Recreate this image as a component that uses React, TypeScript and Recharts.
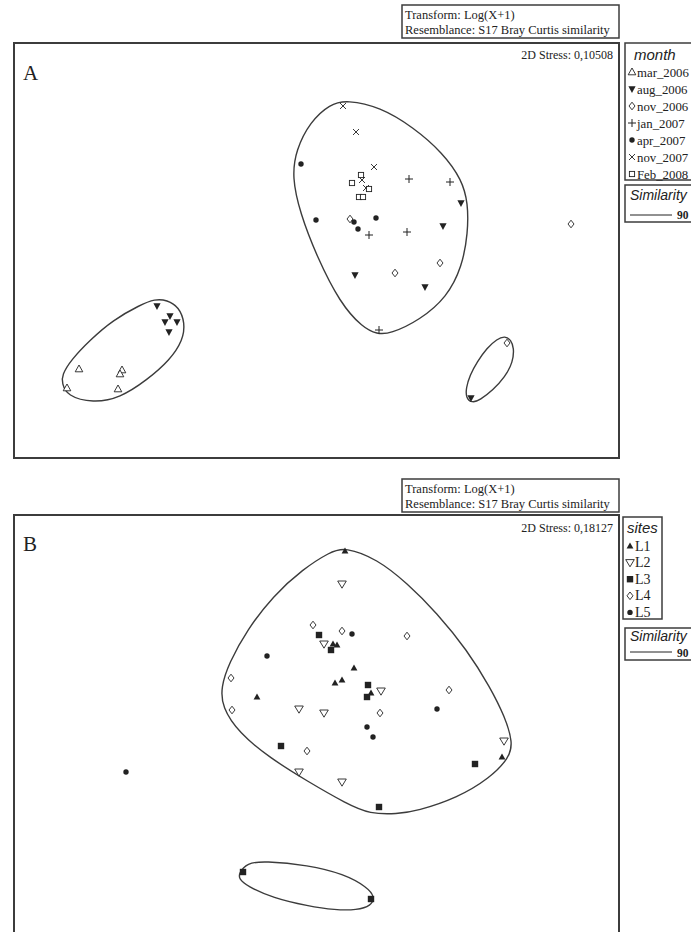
import React from 'react'
import { ScatterChart, Scatter, XAxis, YAxis } from 'recharts'

// MDS coordinates (axis 1, axis 2)

// Panel A: samples grouped by month
const mar2006 = [[-2.36, -1.19], [-1.93, -1.2], [-1.95, -1.24], [-2.48, -1.38], [-1.97, -1.39]]
const aug2006 = [[-1.58, -0.56], [-1.45, -0.66], [-1.5, -0.72], [-1.38, -0.72], [-1.46, -0.82], [1.46, 0.47], [1.28, 0.24], [0.4, -0.25], [1.1, -0.37], [1.56, -1.48]]
const nov2006 = [[0.35, 0.31], [1.25, -0.13], [0.8, -0.23], [2.56, 0.26], [1.92, -0.93]]
const jan2007 = [[0.94, 0.71], [1.35, 0.68], [0.54, 0.15], [0.92, 0.18], [0.64, -0.8]]
const apr2007 = [[-0.14, 0.86], [0.01, 0.3], [0.39, 0.28], [0.61, 0.32], [0.43, 0.21]]
const nov2007 = [[0.28, 1.44], [0.41, 1.18], [0.59, 0.83], [0.47, 0.7], [0.51, 0.62]]
const feb2008 = [[0.46, 0.75], [0.37, 0.67], [0.54, 0.61], [0.44, 0.53], [0.48, 0.53]]

// 90% similarity contours, panel A
const hullA1 = [[0.32, 1.5], [0.65, 1.43], [0.98, 1.23], [1.28, 0.97], [1.47, 0.7], [1.53, 0.47], [1.53, 0.17], [1.47, -0.17], [1.32, -0.47], [1.05, -0.7], [0.75, -0.84], [0.62, -0.84], [0.48, -0.78], [0.25, -0.53], [0.02, -0.07], [-0.15, 0.37], [-0.23, 0.73], [-0.19, 1.0], [-0.05, 1.28], [0.15, 1.46]]
const hullA2 = [[-2.53, -1.33], [-2.48, -1.46], [-2.22, -1.53], [-1.95, -1.48], [-1.68, -1.3], [-1.45, -1.1], [-1.32, -0.9], [-1.3, -0.73], [-1.36, -0.57], [-1.48, -0.5], [-1.6, -0.49], [-1.75, -0.55], [-2.02, -0.7], [-2.25, -0.9], [-2.44, -1.1], [-2.53, -1.25]]
const hullA3 = [[1.9, -0.86], [1.96, -0.9], [1.99, -0.98], [1.98, -1.12], [1.9, -1.27], [1.78, -1.4], [1.65, -1.5], [1.57, -1.53], [1.51, -1.48], [1.51, -1.38], [1.55, -1.25], [1.62, -1.12], [1.72, -0.98], [1.82, -0.89]]

// Panel B: samples grouped by site
const siteL1 = [[0.3, 1.74], [0.18, 0.81], [0.22, 0.8], [0.39, 0.57], [0.2, 0.42], [0.27, 0.45], [0.56, 0.32], [-0.58, 0.28], [1.87, -0.32]]
const siteL2 = [[0.27, 1.41], [0.09, 0.81], [0.66, 0.34], [-0.16, 0.16], [0.09, 0.12], [1.89, -0.16], [-0.16, -0.47], [0.27, -0.57]]
const siteL3 = [[0.04, 0.9], [0.16, 0.75], [0.53, 0.4], [0.52, 0.28], [-0.34, -0.21], [1.6, -0.39], [0.64, -0.82], [-0.72, -1.47], [0.56, -1.74]]
const siteL4 = [[-0.02, 1.0], [0.27, 0.94], [0.92, 0.89], [1.34, 0.35], [-0.84, 0.47], [-0.83, 0.15], [0.65, 0.12], [-0.08, -0.26]]
const siteL5 = [[0.37, 0.91], [-0.48, 0.69], [1.22, 0.16], [0.52, -0.02], [0.58, -0.12], [-1.89, -0.47]]

const hullB1 = [[0.3, 1.78], [0.62, 1.66], [0.92, 1.42], [1.22, 1.12], [1.52, 0.75], [1.75, 0.38], [1.9, 0.08], [1.98, -0.18], [1.94, -0.33], [1.75, -0.53], [1.42, -0.73], [1.02, -0.86], [0.82, -0.89], [0.55, -0.89], [0.32, -0.79], [-0.08, -0.56], [-0.45, -0.33], [-0.76, -0.08], [-0.93, 0.18], [-0.94, 0.38], [-0.86, 0.62], [-0.68, 0.95], [-0.42, 1.29], [-0.12, 1.56], [0.15, 1.73]]
const hullB2 = [[-0.76, -1.48], [-0.68, -1.38], [-0.51, -1.36], [-0.07, -1.4], [0.29, -1.49], [0.52, -1.62], [0.6, -1.72], [0.56, -1.81], [0.42, -1.85], [0.2, -1.85], [-0.07, -1.81], [-0.42, -1.73], [-0.68, -1.61], [-0.76, -1.54]]

const monthNames = ['mar_2006', 'aug_2006', 'nov_2006', 'jan_2007', 'apr_2007', 'nov_2007', 'Feb_2008']
const siteNames = ['L1', 'L2', 'L3', 'L4', 'L5']

type Kind = 'triUp' | 'triUpFill' | 'triDown' | 'triDownFill' | 'diamond' | 'plus' | 'dot' | 'cross' | 'square' | 'squareFill'

const monthKinds: Kind[] = ['triUp', 'triDownFill', 'diamond', 'plus', 'dot', 'cross', 'square']
const siteKinds: Kind[] = ['triUpFill', 'triDown', 'squareFill', 'diamond', 'dot']

const monthSeries = [mar2006, aug2006, nov2006, jan2007, apr2007, nov2007, feb2008]
const siteSeries = [siteL1, siteL2, siteL3, siteL4, siteL5]

const INK = '#222'
const FRAME = '#3c3c3c'
const SERIF = '"Liberation Serif", "Times New Roman", serif'
const SANS = '"Liberation Sans", Arial, sans-serif'

const toRows = (a: number[][]) => a.map(([x, y]) => ({ x, y }))

function mark(kind: Kind, cx: number, cy: number) {
  const sw = 0.9
  switch (kind) {
    case 'triUp':
      return <path d={`M${cx} ${cy - 4}L${cx + 3.8} ${cy + 2.8}L${cx - 3.8} ${cy + 2.8}Z`} fill="#fff" stroke={INK} strokeWidth={sw} />
    case 'triUpFill':
      return <path d={`M${cx} ${cy - 3.6}L${cx + 3.4} ${cy + 2.6}L${cx - 3.4} ${cy + 2.6}Z`} fill={INK} />
    case 'triDown':
      return <path d={`M${cx} ${cy + 4.2}L${cx + 4.3} ${cy - 3}L${cx - 4.3} ${cy - 3}Z`} fill="#fff" stroke={INK} strokeWidth={sw} />
    case 'triDownFill':
      return <path d={`M${cx} ${cy + 4}L${cx + 3.6} ${cy - 2.8}L${cx - 3.6} ${cy - 2.8}Z`} fill={INK} />
    case 'diamond':
      return <path d={`M${cx} ${cy - 3.8}L${cx + 3} ${cy}L${cx} ${cy + 3.8}L${cx - 3} ${cy}Z`} fill="#fff" stroke={INK} strokeWidth={sw} />
    case 'plus':
      return <path d={`M${cx - 4} ${cy}H${cx + 4}M${cx} ${cy - 4}V${cy + 4}`} stroke={INK} strokeWidth={1} fill="none" />
    case 'dot':
      return <circle cx={cx} cy={cy} r={2.7} fill={INK} />
    case 'cross':
      return <path d={`M${cx - 3} ${cy - 3}L${cx + 3} ${cy + 3}M${cx + 3} ${cy - 3}L${cx - 3} ${cy + 3}`} stroke={INK} strokeWidth={0.9} fill="none" />
    case 'square':
      return <rect x={cx - 2.6} y={cy - 2.6} width={5.2} height={5.2} fill="#fff" stroke={INK} strokeWidth={sw} />
    case 'squareFill':
      return <rect x={cx - 3.2} y={cy - 3.2} width={6.4} height={6.4} fill={INK} />
  }
}

const noDot = () => <g />

function hullSeries(data: number[][], key: string) {
  return (
    <Scatter
      key={key}
      data={toRows(data)}
      line={{ stroke: FRAME, strokeWidth: 1.4 }}
      lineType="joint"
      lineJointType="basisClosed"
      shape={noDot}
      legendType="none"
      isAnimationActive={false}
    />
  )
}

function pointSeries(data: number[][], kind: Kind, key: string) {
  return (
    <Scatter
      key={key}
      data={toRows(data)}
      shape={(p: any) => mark(kind, p.cx, p.cy)}
      legendType="none"
      isAnimationActive={false}
    />
  )
}

function Legend({ x, y, w, h, title, titleX, titleBase, names, kinds, first, step, size }: {
  x: number; y: number; w: number; h: number; title: string; titleX: number; titleBase: number
  names: string[]; kinds: Kind[]; first: number; step: number; size: number
}) {
  return (
    <g>
      <rect x={x} y={y} width={w} height={h} fill="#fff" stroke={FRAME} strokeWidth={1.5} />
      <text x={titleX} y={titleBase} fontFamily={SANS} fontStyle="italic" fontSize={15} fill={INK}>{title}</text>
      {names.map((n, i) => (
        <g key={n}>
          {mark(kinds[i], x + 7, first + i * step)}
          <text x={x + 12} y={first + i * step + 4.5} fontFamily={SERIF} fontSize={size} fill={INK}>{n}</text>
        </g>
      ))}
    </g>
  )
}

function SimilarityBox({ x, y, h, textBase, lineY, numBase }: {
  x: number; y: number; h: number; textBase: number; lineY: number; numBase: number
}) {
  return (
    <g>
      <rect x={x} y={y} width={90} height={h} fill="#fff" stroke={FRAME} strokeWidth={1.5} />
      <text x={x + 5} y={textBase} fontFamily={SANS} fontStyle="italic" fontSize={14} fill={INK}>Similarity</text>
      <line x1={x + 5} x2={x + 47} y1={lineY} y2={lineY} stroke={INK} strokeWidth={1} />
      <text x={x + 52} y={numBase} fontFamily={SERIF} fontSize={11.5} fontWeight="bold" fill={INK}>90</text>
    </g>
  )
}

function TransformBox({ x, y }: { x: number; y: number }) {
  return (
    <g>
      <rect x={x} y={y} width={217} height={33} fill="#fff" stroke={FRAME} strokeWidth={1.5} />
      <text x={x + 3} y={y + 13.5} fontFamily={SERIF} fontSize={12.5} fill={INK}>Transform: Log(X+1)</text>
      <text x={x + 3} y={y + 28.5} fontFamily={SERIF} fontSize={12.5} fill={INK}>Resemblance: S17 Bray Curtis similarity</text>
    </g>
  )
}

export default function App() {
  return (
    <div style={{ position: 'absolute', left: 0, top: 0, width: 691, height: 932, overflow: 'hidden', background: '#fff' }}>
      <div style={{ position: 'absolute', left: 14, top: 43 }}>
        <ScatterChart width={605} height={415} margin={{ top: 0, right: 0, bottom: 0, left: 0 }}>
          <XAxis type="number" dataKey="x" domain={[-3.01, 3.04]} hide />
          <YAxis type="number" dataKey="y" domain={[-2.08, 2.07]} hide />
          {hullSeries(hullA1, 'hA1')}
          {hullSeries(hullA2, 'hA2')}
          {hullSeries(hullA3, 'hA3')}
          {monthSeries.map((s, i) => pointSeries(s, monthKinds[i], monthNames[i]))}
        </ScatterChart>
      </div>
      <div style={{ position: 'absolute', left: 14, top: 515 }}>
        <ScatterChart width={605} height={421} margin={{ top: 0, right: 0, bottom: 0, left: 0 }}>
          <XAxis type="number" dataKey="x" domain={[-3.01, 3.04]} hide />
          <YAxis type="number" dataKey="y" domain={[-2.11, 2.1]} hide />
          {hullSeries(hullB1, 'hB1')}
          {hullSeries(hullB2, 'hB2')}
          {siteSeries.map((s, i) => pointSeries(s, siteKinds[i], siteNames[i]))}
        </ScatterChart>
      </div>
      <svg width={691} height={932} style={{ position: 'absolute', left: 0, top: 0, pointerEvents: 'none' }}>
        {/* panel A */}
        <rect x={14} y={43} width={605} height={415} fill="none" stroke={FRAME} strokeWidth={2} />
        <TransformBox x={402} y={5} />
        <text x={23} y={80} fontFamily={SERIF} fontSize={21} fill={INK}>A</text>
        <text x={613} y={59} textAnchor="end" fontFamily={SERIF} fontSize={12} fill={INK}>2D Stress: 0,10508</text>
        <Legend x={625} y={43} w={90} h={137} title="month" titleX={634} titleBase={60}
          names={monthNames} kinds={monthKinds} first={72} step={17} size={12.8} />
        <SimilarityBox x={625} y={185} h={37} textBase={200} lineY={215} numBase={219} />

        {/* panel B */}
        <rect x={14} y={515} width={605} height={421} fill="none" stroke={FRAME} strokeWidth={2} />
        <TransformBox x={402} y={479} />
        <text x={23} y={551} fontFamily={SERIF} fontSize={21} fill={INK}>B</text>
        <text x={613} y={532} textAnchor="end" fontFamily={SERIF} fontSize={12} fill={INK}>2D Stress: 0,18127</text>
        <Legend x={623} y={517} w={39} h={102} title="sites" titleX={627} titleBase={533}
          names={siteNames} kinds={siteKinds} first={546} step={16.6} size={14} />
        <SimilarityBox x={625} y={628} h={32} textBase={641} lineY={652} numBase={657} />
      </svg>
    </div>
  )
}
